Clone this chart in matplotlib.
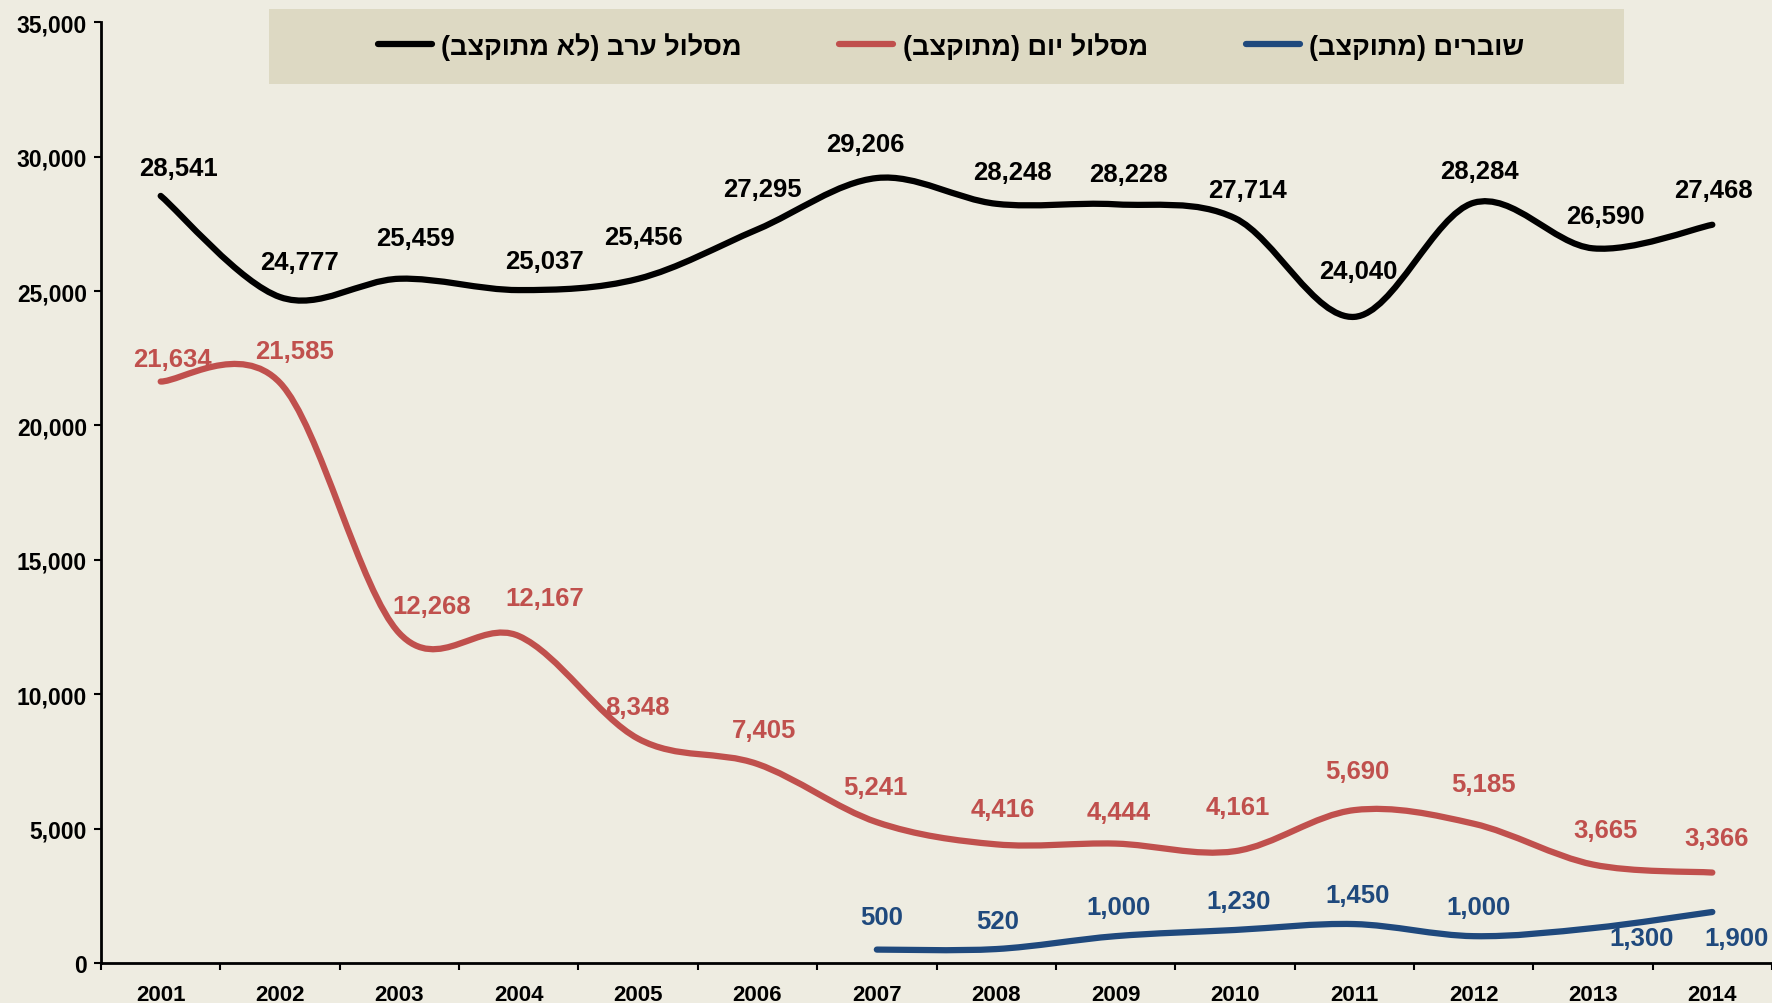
import numpy as np
import matplotlib
matplotlib.use("Agg")
import matplotlib.pyplot as plt
from matplotlib.path import Path
from matplotlib.patches import PathPatch, Rectangle
from matplotlib.lines import Line2D
from matplotlib.ticker import FuncFormatter, FixedLocator

# data
years = ['2001', '2002', '2003', '2004', '2005', '2006', '2007',
         '2008', '2009', '2010', '2011', '2012', '2013', '2014']
evening = [28541, 24777, 25459, 25037, 25456, 27295, 29206,
           28248, 28228, 27714, 24040, 28284, 26590, 27468]
day = [21634, 21585, 12268, 12167, 8348, 7405, 5241,
       4416, 4444, 4161, 5690, 5185, 3665, 3366]
vouchers = [np.nan] * 6 + [500, 520, 1000, 1230, 1450, 1000, 1300, 1900]

names = ['מסלול ערב (לא מתוקצב)', 'מסלול יום (מתוקצב)', 'שוברים (מתוקצב)']

# label offsets (dx, dy) in pixels of the reference, layout only
off_evening = [(16, 25), (17, 31), (14, 36), (23, 26), (5, 37), (4, 36), (-10, 30),
               (14, 28), (11, 27), (11, 25), (4, 41), (5, 28), (11, 29), (1, 31)]
off_day = [(10, 20), (13, 28), (29, 24), (23, 34), (-1, 28), (6, 30), (-1, 31),
           (6, 31), (3, 28), (3, 39), (3, 35), (9, 35), (11, 31), (4, 31)]
off_vouchers = [None] * 6 + [(4, 29), (1, 25), (3, 26), (3, 26), (3, 26), (4, 26),
                             (43, -9), (21, -23)]

bg = '#eeece1'
c_black, c_red, c_blue = '#000000', '#c0504d', '#1f497d'


def visual(s):
    # matplotlib draws left to right: put Hebrew in visual order
    swap = {'(': ')', ')': '('}
    return ''.join(swap.get(ch, ch) for ch in reversed(s))


def smooth_path(vals):
    pts = [(i, v) for i, v in enumerate(vals) if not np.isnan(v)]
    pts = np.array(pts, dtype=float)
    n = len(pts)
    verts = [pts[0]]
    codes = [Path.MOVETO]
    for i in range(n - 1):
        p0 = pts[i - 1] if i > 0 else pts[i]
        p1, p2 = pts[i], pts[i + 1]
        p3 = pts[i + 2] if i + 2 < n else pts[i + 1]
        verts += [p1 + (p2 - p0) / 6, p2 - (p3 - p1) / 6, p2]
        codes += [Path.CURVE4] * 3
    return Path(verts, codes)


plt.rcParams['font.family'] = ['Liberation Sans', 'DejaVu Sans']
plt.rcParams['font.weight'] = 'bold'

fig = plt.figure(figsize=(17.72, 10.04), dpi=100)
fig.patch.set_facecolor(bg)
ax = fig.add_axes([0.057, 0.0398, 0.943, 0.937])
ax.set_facecolor(bg)

series = [(evening, c_black, off_evening),
          (day, c_red, off_day),
          (vouchers, c_blue, off_vouchers)]
k = 0.8136  # reference px -> points
for vals, col, offs in series:
    ax.add_patch(PathPatch(smooth_path(vals), fill=False, edgecolor=col, lw=4.5,
                           capstyle='round', joinstyle='round', zorder=3))
    for i, v in enumerate(vals):
        if np.isnan(v):
            continue
        dx, dy = offs[i]
        ax.annotate(f'{int(v):,}', (i, v), xytext=(dx * k, dy * k),
                    textcoords='offset points', ha='center', va='center',
                    color=col, fontsize=18.5, fontweight='bold', zorder=4)

ax.set_xlim(-0.5, 13.5)
ax.set_ylim(0, 35000)
ax.set_yticks(range(0, 35001, 5000))
ax.yaxis.set_major_formatter(FuncFormatter(lambda v, p: f'{int(v):,}'))
ax.tick_params(axis='y', direction='out', length=5, width=1.5, labelsize=16.5, pad=5)

ax.xaxis.set_major_locator(FixedLocator(np.arange(-0.5, 14, 1)))
ax.xaxis.set_minor_locator(FixedLocator(np.arange(14)))
ax.set_xticklabels([], minor=False)
ax.set_xticklabels(years, minor=True)
ax.tick_params(axis='x', which='major', direction='out', length=5, width=1.5)
ax.tick_params(axis='x', which='minor', length=0, labelsize=16, pad=15)

for s in ['top', 'right']:
    ax.spines[s].set_visible(False)
for s in ['left', 'bottom']:
    ax.spines[s].set_linewidth(2)
    ax.spines[s].set_color('black')

# legend band
fig.patches.append(Rectangle((269 / 1772, 1 - 85 / 1004), (1624 - 269) / 1772, 75 / 1004,
                             transform=fig.transFigure, facecolor='#ddd9c3',
                             edgecolor='none', zorder=0))
handles = [Line2D([], [], color=c, lw=4.5, solid_capstyle='round')
           for c in (c_black, c_red, c_blue)]
fig.legend(handles, [visual(n) for n in names], loc='center',
           bbox_to_anchor=(951 / 1772, 1 - 47 / 1004), ncol=3, frameon=False,
           prop={'size': 19.5, 'weight': 'bold'}, handlelength=2.0,
           handletextpad=0.35, columnspacing=3.6)

fig.savefig('out.png', dpi=100, facecolor=bg)
